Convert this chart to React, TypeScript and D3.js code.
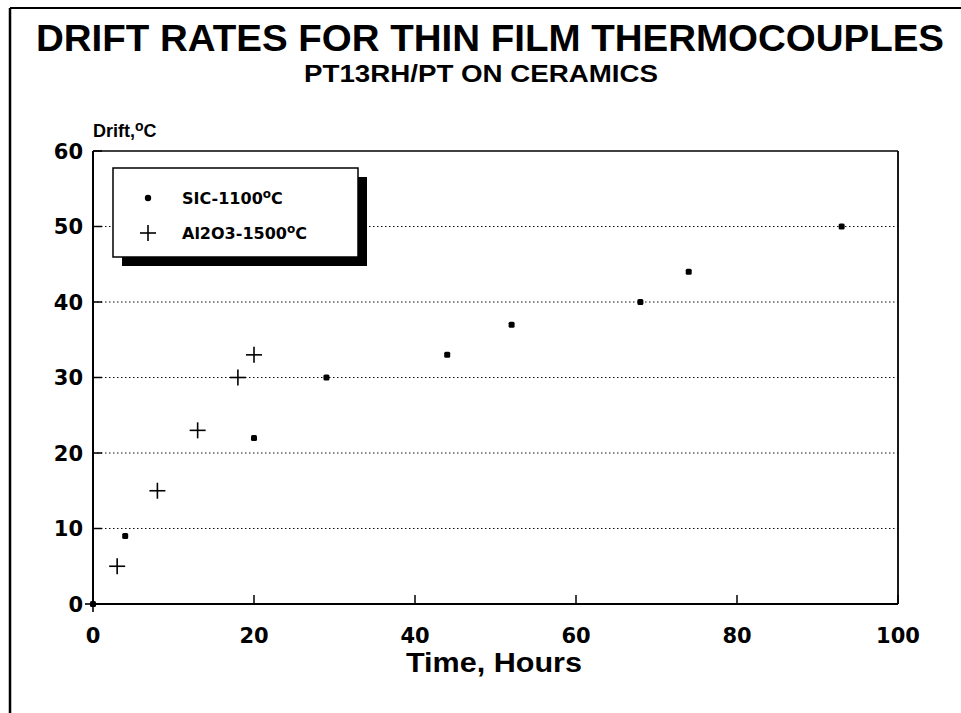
import React from 'react';
import * as d3 from 'd3';

const width = 961;
const height = 713;
const margin = {top: 151, right: 63, bottom: 109, left: 93};

// SiC substrate, 1100 C
const sicHours = [0, 4, 20, 29, 44, 52, 68, 74, 93];
const sicDrift = [0, 9, 22, 30, 33, 37, 40, 44, 50];
// Al2O3 substrate, 1500 C
const aluHours = [0, 3, 8, 13, 18, 20];
const aluDrift = [0, 5, 15, 23, 30, 33];

const xTicks = [0, 20, 40, 60, 80, 100];
const yTicks = [0, 10, 20, 30, 40, 50, 60];
const gridTicks = [10, 20, 30, 40, 50];

const wideFont = 'DejaVu Sans, Verdana, sans-serif';
const plainFont = 'Liberation Sans, Arial, Helvetica, sans-serif';

const App = () => {
  const x = d3.scaleLinear().domain([0, 100]).range([margin.left, width - margin.right]);
  const y = d3.scaleLinear().domain([0, 60]).range([height - margin.bottom, margin.top]);

  const sic = sicHours.map((h, i) => ({h, d: sicDrift[i]}));
  const alu = aluHours.map((h, i) => ({h, d: aluDrift[i]}));

  const x0 = x(0), x1 = x(100), y0 = y(0), y1 = y(60);

  // legend box
  const lg = {x: 113, y: 168, w: 245, h: 89, sh: 9};

  return (
    <div style={{position: 'absolute', left: 0, top: 0}}>
      <svg width={width} height={height} style={{display: 'block', background: '#fff'}}>
        {/* outer frame (left + top only) */}
        <line x1={10} y1={8} x2={10} y2={height} stroke='#000' strokeWidth={2.5} />
        <line x1={10} y1={8} x2={width} y2={8} stroke='#000' strokeWidth={2} />

        {/* titles */}
        <text x={490} y={51} textAnchor='middle' fontFamily={plainFont} fontWeight='bold'
          fontSize={36} textLength={908} lengthAdjust='spacingAndGlyphs' fill='#000'>
          DRIFT RATES FOR THIN FILM THERMOCOUPLES
        </text>
        <text x={481} y={82} textAnchor='middle' fontFamily={plainFont} fontWeight='bold'
          fontSize={24} textLength={354} lengthAdjust='spacingAndGlyphs' fill='#000'>
          PT13RH/PT ON CERAMICS
        </text>

        {/* y axis title */}
        <text x={93} y={137} fontFamily={plainFont} fontWeight='bold' fontSize={18} fill='#000'>
          Drift,<tspan dy={-6} fontSize={14}>o</tspan><tspan dy={6}>C</tspan>
        </text>

        {/* grid */}
        {gridTicks.map(t => (
          <line key={'g' + t} x1={x0} x2={x1} y1={y(t)} y2={y(t)} stroke='#111'
            strokeWidth={1} strokeDasharray='1.5,2.5' />
        ))}

        {/* plot frame */}
        <line x1={x0} y1={y1} x2={x1} y2={y1} stroke='#000' strokeWidth={1.5} />
        <line x1={x1} y1={y1} x2={x1} y2={y0} stroke='#000' strokeWidth={1.8} />
        <line x1={x0} y1={y1} x2={x0} y2={y0} stroke='#000' strokeWidth={2} />
        <line x1={x0} y1={y0} x2={x1} y2={y0} stroke='#000' strokeWidth={2} />

        {/* y ticks */}
        {yTicks.map(t => (
          <g key={'y' + t}>
            <line x1={x0} x2={x0 + 9} y1={y(t)} y2={y(t)} stroke='#000' strokeWidth={1.5} />
            <text x={x0 - 10} y={y(t)} dy='0.36em' textAnchor='end' fontFamily={wideFont}
              fontWeight='bold' fontSize={21} fill='#000'>{t}</text>
          </g>
        ))}

        {/* x ticks */}
        {xTicks.map(t => (
          <g key={'x' + t}>
            <line x1={x(t)} x2={x(t)} y1={y0} y2={y0 - 9} stroke='#000' strokeWidth={1.5} />
            <text x={x(t)} y={y0 + 31} dy='0.36em' textAnchor='middle' fontFamily={wideFont}
              fontWeight='bold' fontSize={21} fill='#000'>{t}</text>
          </g>
        ))}

        {/* x axis title */}
        <text x={494} y={672} textAnchor='middle' fontFamily={plainFont} fontWeight='bold'
          fontSize={28} textLength={176} lengthAdjust='spacingAndGlyphs' fill='#000'>
          Time, Hours
        </text>

        {/* SiC points */}
        {sic.map((p, i) => (
          <rect key={'s' + i} x={x(p.h) - 3} y={y(p.d) - 3} width={6} height={6} rx={1.5} fill='#000' />
        ))}

        {/* Al2O3 points */}
        {alu.map((p, i) => (
          <g key={'a' + i} stroke='#000' strokeWidth={1.6}>
            <line x1={x(p.h) - 8} x2={x(p.h) + 8} y1={y(p.d)} y2={y(p.d)} />
            <line x1={x(p.h)} x2={x(p.h)} y1={y(p.d) - 8} y2={y(p.d) + 8} />
          </g>
        ))}

        {/* legend */}
        <rect x={lg.x + lg.sh} y={lg.y + lg.sh} width={lg.w} height={lg.h} fill='#000' />
        <rect x={lg.x} y={lg.y} width={lg.w} height={lg.h} fill='#fff' stroke='#000' strokeWidth={1.5} />
        <circle cx={148} cy={198} r={3.2} fill='#000' />
        <text x={182} y={198} dy='0.36em' fontFamily={wideFont} fontWeight='bold' fontSize={16} fill='#000'>
          SIC-1100<tspan dy={-6} fontSize={12}>o</tspan><tspan dy={6}>C</tspan>
        </text>
        <g stroke='#000' strokeWidth={1.6}>
          <line x1={140} x2={156} y1={233} y2={233} />
          <line x1={148} x2={148} y1={225} y2={241} />
        </g>
        <text x={182} y={233} dy='0.36em' fontFamily={wideFont} fontWeight='bold' fontSize={16} fill='#000'>
          Al2O3-1500<tspan dy={-6} fontSize={12}>o</tspan><tspan dy={6}>C</tspan>
        </text>
      </svg>
    </div>
  );
};

export default App;
